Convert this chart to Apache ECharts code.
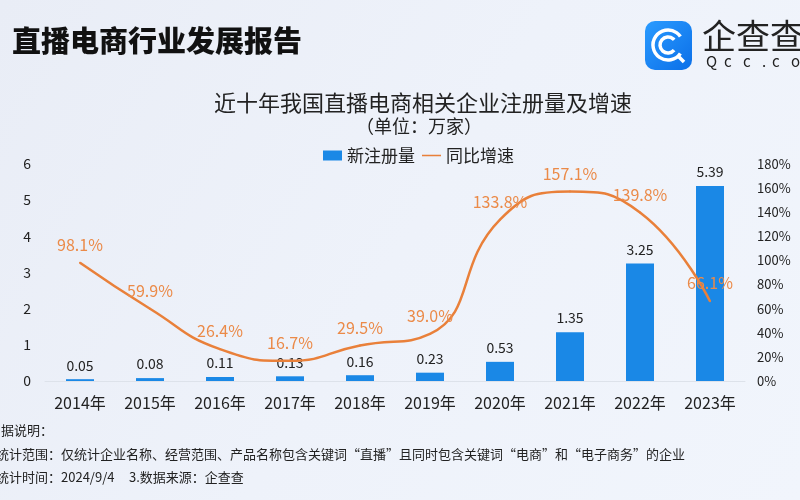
<!DOCTYPE html>
<html><head><meta charset="utf-8">
<script src="https://cdn.jsdelivr.net/npm/echarts@6/dist/echarts.min.js"></script>
<style>html,body{margin:0;padding:0;}#c{width:800px;height:500px;}</style>
</head><body><div id="c"></div>
<script>
const categories = ['2014年','2015年','2016年','2017年','2018年','2019年','2020年','2021年','2022年','2023年'];
const newRegistrations = [0.05,0.08,0.11,0.13,0.16,0.23,0.53,1.35,3.25,5.39];
const growthRate = [98.1,59.9,26.4,16.7,29.5,39.0,133.8,157.1,139.8,66.1];
const notes = [
  '据说明：',
  '统计范围：仅统计企业名称、经营范围、产品名称包含关键词“直播”且同时包含关键词“电商”和“电子商务”的企业',
  '统计时间：2024/9/4     3.数据来源：企查查'
];
const logoSub = ['Q','c','c','.','c','o','m'];
const FONT = '"Noto Sans CJK SC","Noto Sans",sans-serif';
const chart = echarts.init(document.getElementById('c'));
const subX = [706,724,743,762,772,791,810];
const graphics = [
  {type:'text',left:12,top:26,style:{text:'直播电商行业发展报告',fontSize:29,fontWeight:900,fill:'#111',fontFamily:FONT}},
  {type:'rect',shape:{x:645,y:21,width:47,height:49,r:10},style:{fill:new echarts.graphic.LinearGradient(0,0,1,1,[{offset:0,color:'#2a9bff'},{offset:1,color:'#0b6fe8'}])}},
  {type:'arc',shape:{cx:668,cy:45,r:15,startAngle:0.6,endAngle:-0.6+2*Math.PI},style:{stroke:'#fff',lineWidth:3.5,fill:null}},
  {type:'arc',shape:{cx:668,cy:45,r:8,startAngle:0.7,endAngle:-0.7+2*Math.PI},style:{stroke:'#fff',lineWidth:3.5,fill:null}},
  {type:'line',shape:{x1:678,y1:56,x2:684,y2:62},style:{stroke:'#fff',lineWidth:3.5}},
  {type:'text',left:702,top:19,style:{text:'企查查',fontSize:34,fill:'#222',fontFamily:FONT}},
  {type:'text',left:1,top:424,style:{text:notes[0],fontSize:13,fill:'#222',fontFamily:FONT}},
  {type:'text',left:-4,top:448,style:{text:notes[1],fontSize:13,fill:'#222',fontFamily:FONT}},
  {type:'text',left:-4,top:471,style:{text:notes[2],fontSize:13,fill:'#222',fontFamily:FONT}}
];
logoSub.forEach((ch,i)=>graphics.push({type:'text',x:subX[i],y:54,style:{text:ch,fontSize:15,fill:'#222',fontFamily:FONT}}));
chart.setOption({
  backgroundColor: new echarts.graphic.LinearGradient(0,0,1,1,[
    {offset:0,color:'#e9edf6'},{offset:0.5,color:'#eef2fa'},{offset:1,color:'#f1f5fc'}]),
  textStyle:{fontFamily:FONT},
  title:[
    {text:'近十年我国直播电商相关企业注册量及增速',left:418,textAlign:'center',top:87,
     textStyle:{fontSize:22,fontWeight:'normal',color:'#222',fontFamily:FONT}},
    {text:'（单位：万家）',left:414,textAlign:'center',top:112,
     textStyle:{fontSize:18,fontWeight:'normal',color:'#222',fontFamily:FONT}}
  ],
  legend:{top:142,left:318,itemWidth:19,itemHeight:10,itemGap:7,
    textStyle:{fontSize:17,color:'#222',fontFamily:FONT},
    data:[{name:'新注册量',icon:'rect'},
          {name:'同比增速',icon:'path://M0,4.2 L20,4.2 L20,5.8 L0,5.8 Z',itemStyle:{color:'#e9803a'}}]},
  grid:{left:45,right:55,top:164,bottom:119},
  xAxis:{type:'category',data:categories,
    axisLine:{lineStyle:{color:'#dde2ea'}},axisTick:{show:false},
    axisLabel:{fontSize:16,color:'#222',margin:14,fontFamily:FONT}},
  yAxis:[
    {type:'value',min:0,max:6,interval:1,splitLine:{show:false},
     axisLabel:{fontSize:14,color:'#222',margin:14,fontFamily:FONT}},
    {type:'value',min:0,max:180,interval:20,splitLine:{show:false},
     axisLabel:{fontSize:13,color:'#222',formatter:'{value}%',margin:12,fontFamily:FONT}}
  ],
  series:[
    {name:'新注册量',type:'bar',data:newRegistrations,barWidth:28,
     itemStyle:{color:'#1a88e6'},
     label:{show:true,position:'top',fontSize:14,color:'#222',distance:7,fontFamily:FONT}},
    {name:'同比增速',type:'line',yAxisIndex:1,data:growthRate,smooth:0.5,
     symbol:'circle',symbolSize:2,showSymbol:true,
     lineStyle:{color:'#e9803a',width:2.5},itemStyle:{color:'#e9803a'},
     label:{show:true,position:'top',distance:9,fontSize:16,color:'#eb8a48',
       formatter:p=>p.value.toFixed(1)+'%',fontFamily:FONT}}
  ],
  graphic:graphics
});
</script></body></html>
